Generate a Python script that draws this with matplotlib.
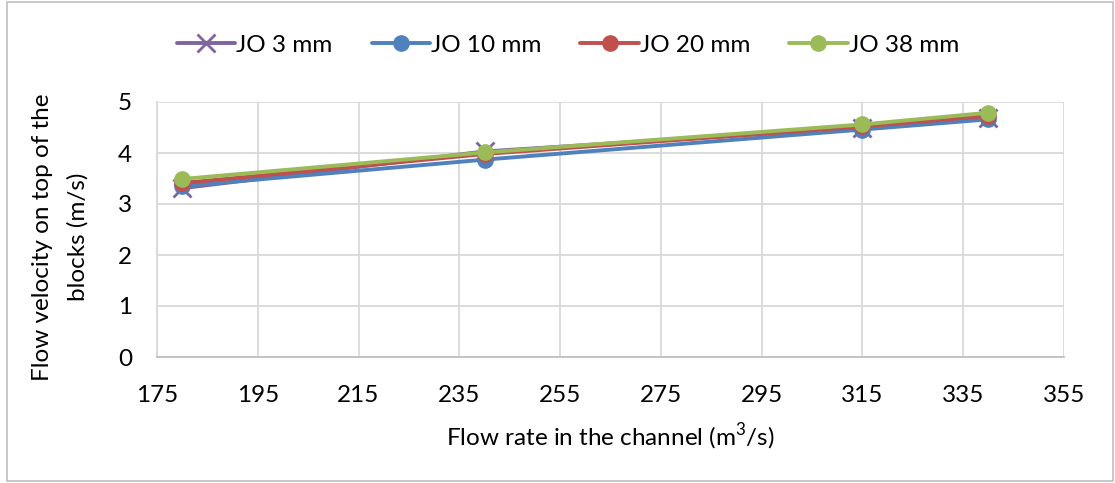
import matplotlib
matplotlib.use("Agg")
import matplotlib.pyplot as plt
from matplotlib.patches import Rectangle

plt.rcParams['font.family'] = ['Lato', 'DejaVu Sans']
plt.rcParams['mathtext.fontset'] = 'custom'
plt.rcParams['mathtext.rm'] = 'Lato'

flow_rate = [180, 240, 315, 340]
jo_3mm = [3.31, 4.03, 4.50, 4.69]
jo_10mm = [3.35, 3.87, 4.46, 4.66]
jo_20mm = [3.41, 3.98, 4.52, 4.73]
jo_38mm = [3.49, 4.01, 4.56, 4.79]

series = [
    ("JO 3 mm", jo_3mm, "#8064A2", "x"),
    ("JO 10 mm", jo_10mm, "#4F81BD", "o"),
    ("JO 20 mm", jo_20mm, "#C0504D", "o"),
    ("JO 38 mm", jo_38mm, "#9BBB59", "o"),
]

W, H = 1115, 483
FS = 17.5

fig = plt.figure(figsize=(W / 100, H / 100), dpi=100)
ax = fig.add_axes([157 / W, 1 - 357 / H, (1064 - 157) / W, (357 - 102) / H])

for name, vals, color, mk in series:
    if mk == "x":
        ax.plot(flow_rate, vals, color=color, lw=2.8, marker="x", ms=13, mew=2.0,
                label=name, solid_capstyle="round", zorder=3)
    else:
        ax.plot(flow_rate, vals, color=color, lw=2.8, marker="o", ms=11,
                label=name, solid_capstyle="round", zorder=3)

ax.set_xlim(175, 355)
ax.set_ylim(0, 5)
ax.set_xticks(range(175, 356, 20))
ax.set_yticks(range(0, 6))
ax.grid(True, color="#d9d9d9", lw=1.3)
ax.set_axisbelow(True)
for side in ["top", "right"]:
    ax.spines[side].set_visible(False)
ax.spines["left"].set_color("#d9d9d9")
ax.spines["left"].set_linewidth(1.3)
ax.spines["bottom"].set_color("#bfbfbf")
ax.spines["bottom"].set_linewidth(1.3)
ax.tick_params(axis="both", length=0, labelsize=FS, colors="black")
ax.tick_params(axis="y", pad=18)
ax.tick_params(axis="x", pad=20)

ax.set_xlabel(r"Flow rate in the channel (m$^{\mathrm{3}}$/s)", fontsize=FS)
ax.xaxis.set_label_coords(0.5, -(437 - 357) / (357 - 102), transform=ax.transAxes)
ax.xaxis.label.set_va("center")

# two-line y-axis title, one line per text object for even spacing
fig.text(43 / W, 1 - 237 / H, "Flow velocity on top of the", rotation=90,
         ha="center", va="center", fontsize=FS)
fig.text(78 / W, 1 - 237 / H, "blocks (m/s)", rotation=90,
         ha="center", va="center", fontsize=FS)

leg = ax.legend(loc="center", bbox_to_anchor=((568 - 157) / (1064 - 157),
                                               1 + (102 - 45) / (357 - 102)),
                ncol=4, frameon=False, fontsize=FS, handlelength=2.4,
                columnspacing=1.6, handletextpad=0.05)

fig.patches.append(Rectangle((7 / W, 2 / H), 1 - 9 / W, 1 - 4 / H,
                             transform=fig.transFigure, fill=False,
                             edgecolor="#bfbfbf", lw=1.2))

fig.savefig("out.png", dpi=100)
